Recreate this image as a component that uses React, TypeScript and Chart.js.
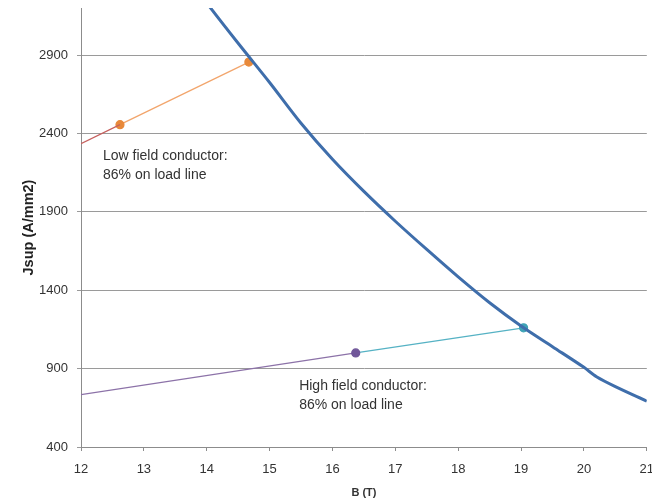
import React, { useEffect, useRef } from "react";
import { Chart, registerables } from "chart.js";

Chart.register(...registerables);

// Load line (critical surface) B (T) vs Jsup (A/mm2)
const curveB = [13.9, 14.0, 14.5, 15.0, 15.5, 16.0, 16.5, 17.0, 17.5, 18.0, 18.5, 19.0, 19.5, 20.0, 20.2, 20.5, 21.0];
const curveJ = [3290, 3232, 2975, 2725, 2465, 2235, 2030, 1840, 1660, 1485, 1320, 1172, 1040, 908, 848, 785, 692];

// Low field conductor
const lowRedB = [12.0, 12.62];
const lowRedJ = [2334, 2456];
const lowOrangeB = [12.62, 14.67];
const lowOrangeJ = [2456, 2855];

// High field conductor
const highPurpleB = [12.0, 16.37];
const highPurpleJ = [734, 1000];
const highTealB = [16.37, 19.04];
const highTealJ = [1000, 1160];

const xTicks = [12, 13, 14, 15, 16, 17, 18, 19, 20, 21];
const yTicks = [400, 900, 1400, 1900, 2400, 2900];

const notes = [
  { b: 12.35, j: 2253, lines: ["Low field conductor:", "86% on load line"] },
  { b: 15.47, j: 785, lines: ["High field conductor:", "86% on load line"] },
];

const pts = (xs: number[], ys: number[]) => xs.map((x, i) => ({ x, y: ys[i] }));

const notePlugin = {
  id: "notes",
  afterDatasetsDraw(chart: any) {
    const { ctx, scales } = chart;
    ctx.save();
    ctx.font = "14px 'Liberation Sans', Arial, sans-serif";
    ctx.fillStyle = "#333333";
    ctx.textBaseline = "middle";
    ctx.textAlign = "left";
    notes.forEach((n) => {
      const x = scales.x.getPixelForValue(n.b);
      const y = scales.y.getPixelForValue(n.j);
      n.lines.forEach((l, i) => ctx.fillText(l, x, y + i * 19));
    });
    ctx.restore();
  },
};

export default function App() {
  const ref = useRef<HTMLCanvasElement>(null);
  useEffect(() => {
    if (!ref.current) return;
    const chart = new Chart(ref.current, {
      type: "scatter",
      data: {
        datasets: [
          {
            data: pts(curveB, curveJ),
            showLine: true,
            borderColor: "#3F6EAB",
            borderWidth: 3,
            pointRadius: 0,
            tension: 0.3,
          },
          {
            data: pts(lowRedB, lowRedJ),
            showLine: true,
            borderColor: "#C6605E",
            borderWidth: 1.2,
            pointRadius: 0,
          },
          {
            data: pts(lowOrangeB, lowOrangeJ),
            showLine: true,
            borderColor: "#F2A56C",
            borderWidth: 1.2,
            pointRadius: 4,
            pointBackgroundColor: "#E8893A",
            pointBorderColor: "#E8893A",
          },
          {
            data: pts(highPurpleB, highPurpleJ),
            showLine: true,
            borderColor: "#8C72A8",
            borderWidth: 1.2,
            pointRadius: [0, 4],
            pointBackgroundColor: "#71579A",
            pointBorderColor: "#71579A",
          },
          {
            data: pts(highTealB, highTealJ),
            showLine: true,
            borderColor: "#55B2C4",
            borderWidth: 1.2,
            pointRadius: [0, 4],
            pointBackgroundColor: "#3FA3B6",
            pointBorderColor: "#3FA3B6",
          },
        ],
      },
      options: {
        animation: false,
        responsive: false,
        layout: { padding: { top: 8, right: 5, left: 0, bottom: 0 } },
        plugins: { legend: { display: false }, tooltip: { enabled: false } },
        scales: {
          x: {
            type: "linear",
            min: 12,
            max: 21,
            afterBuildTicks: (s: any) => {
              s.ticks = xTicks.map((v) => ({ value: v }));
            },
            afterFit: (s: any) => {
              s.height = 55;
              s.paddingLeft = 0;
              s.paddingRight = 0;
            },
            border: { color: "#8C8C8C", width: 1 },
            grid: { drawOnChartArea: false, drawTicks: true, tickLength: 4, color: "#8C8C8C" },
            ticks: {
              color: "#333333",
              font: { family: "'Liberation Sans', Arial, sans-serif", size: 13 },
              padding: 11,
              maxRotation: 0,
              callback: (v: any) => String(v),
            },
            title: {
              display: true,
              text: "B (T)",
              color: "#333333",
              font: { family: "'Liberation Sans', Arial, sans-serif", size: 11, weight: "bold" },
              padding: { top: 0, bottom: 2 },
            },
          },
          y: {
            type: "linear",
            min: 400,
            max: 3200,
            afterBuildTicks: (s: any) => {
              s.ticks = yTicks.map((v) => ({ value: v }));
            },
            afterFit: (s: any) => {
              s.width = 81;
              s.paddingTop = 0;
              s.paddingBottom = 0;
            },
            border: { color: "#8C8C8C", width: 1 },
            grid: { color: "#9A9A9A", tickLength: 4, lineWidth: 1 },
            ticks: {
              color: "#333333",
              font: { family: "'Liberation Sans', Arial, sans-serif", size: 13 },
              padding: 9,
              callback: (v: any) => String(v),
            },
            title: {
              display: true,
              text: "Jsup (A/mm2)",
              color: "#222222",
              font: { family: "'Liberation Sans', Arial, sans-serif", size: 14.5, weight: "bold" },
              padding: { top: 20, bottom: 0 },
            },
          },
        },
      },
      plugins: [notePlugin],
    });
    return () => chart.destroy();
  }, []);
  return (
    <div style={{ position: "fixed", left: 0, top: 0, width: 652, height: 502, background: "#fff" }}>
      <canvas ref={ref} width={652} height={502} style={{ width: 652, height: 502 }} />
    </div>
  );
}
